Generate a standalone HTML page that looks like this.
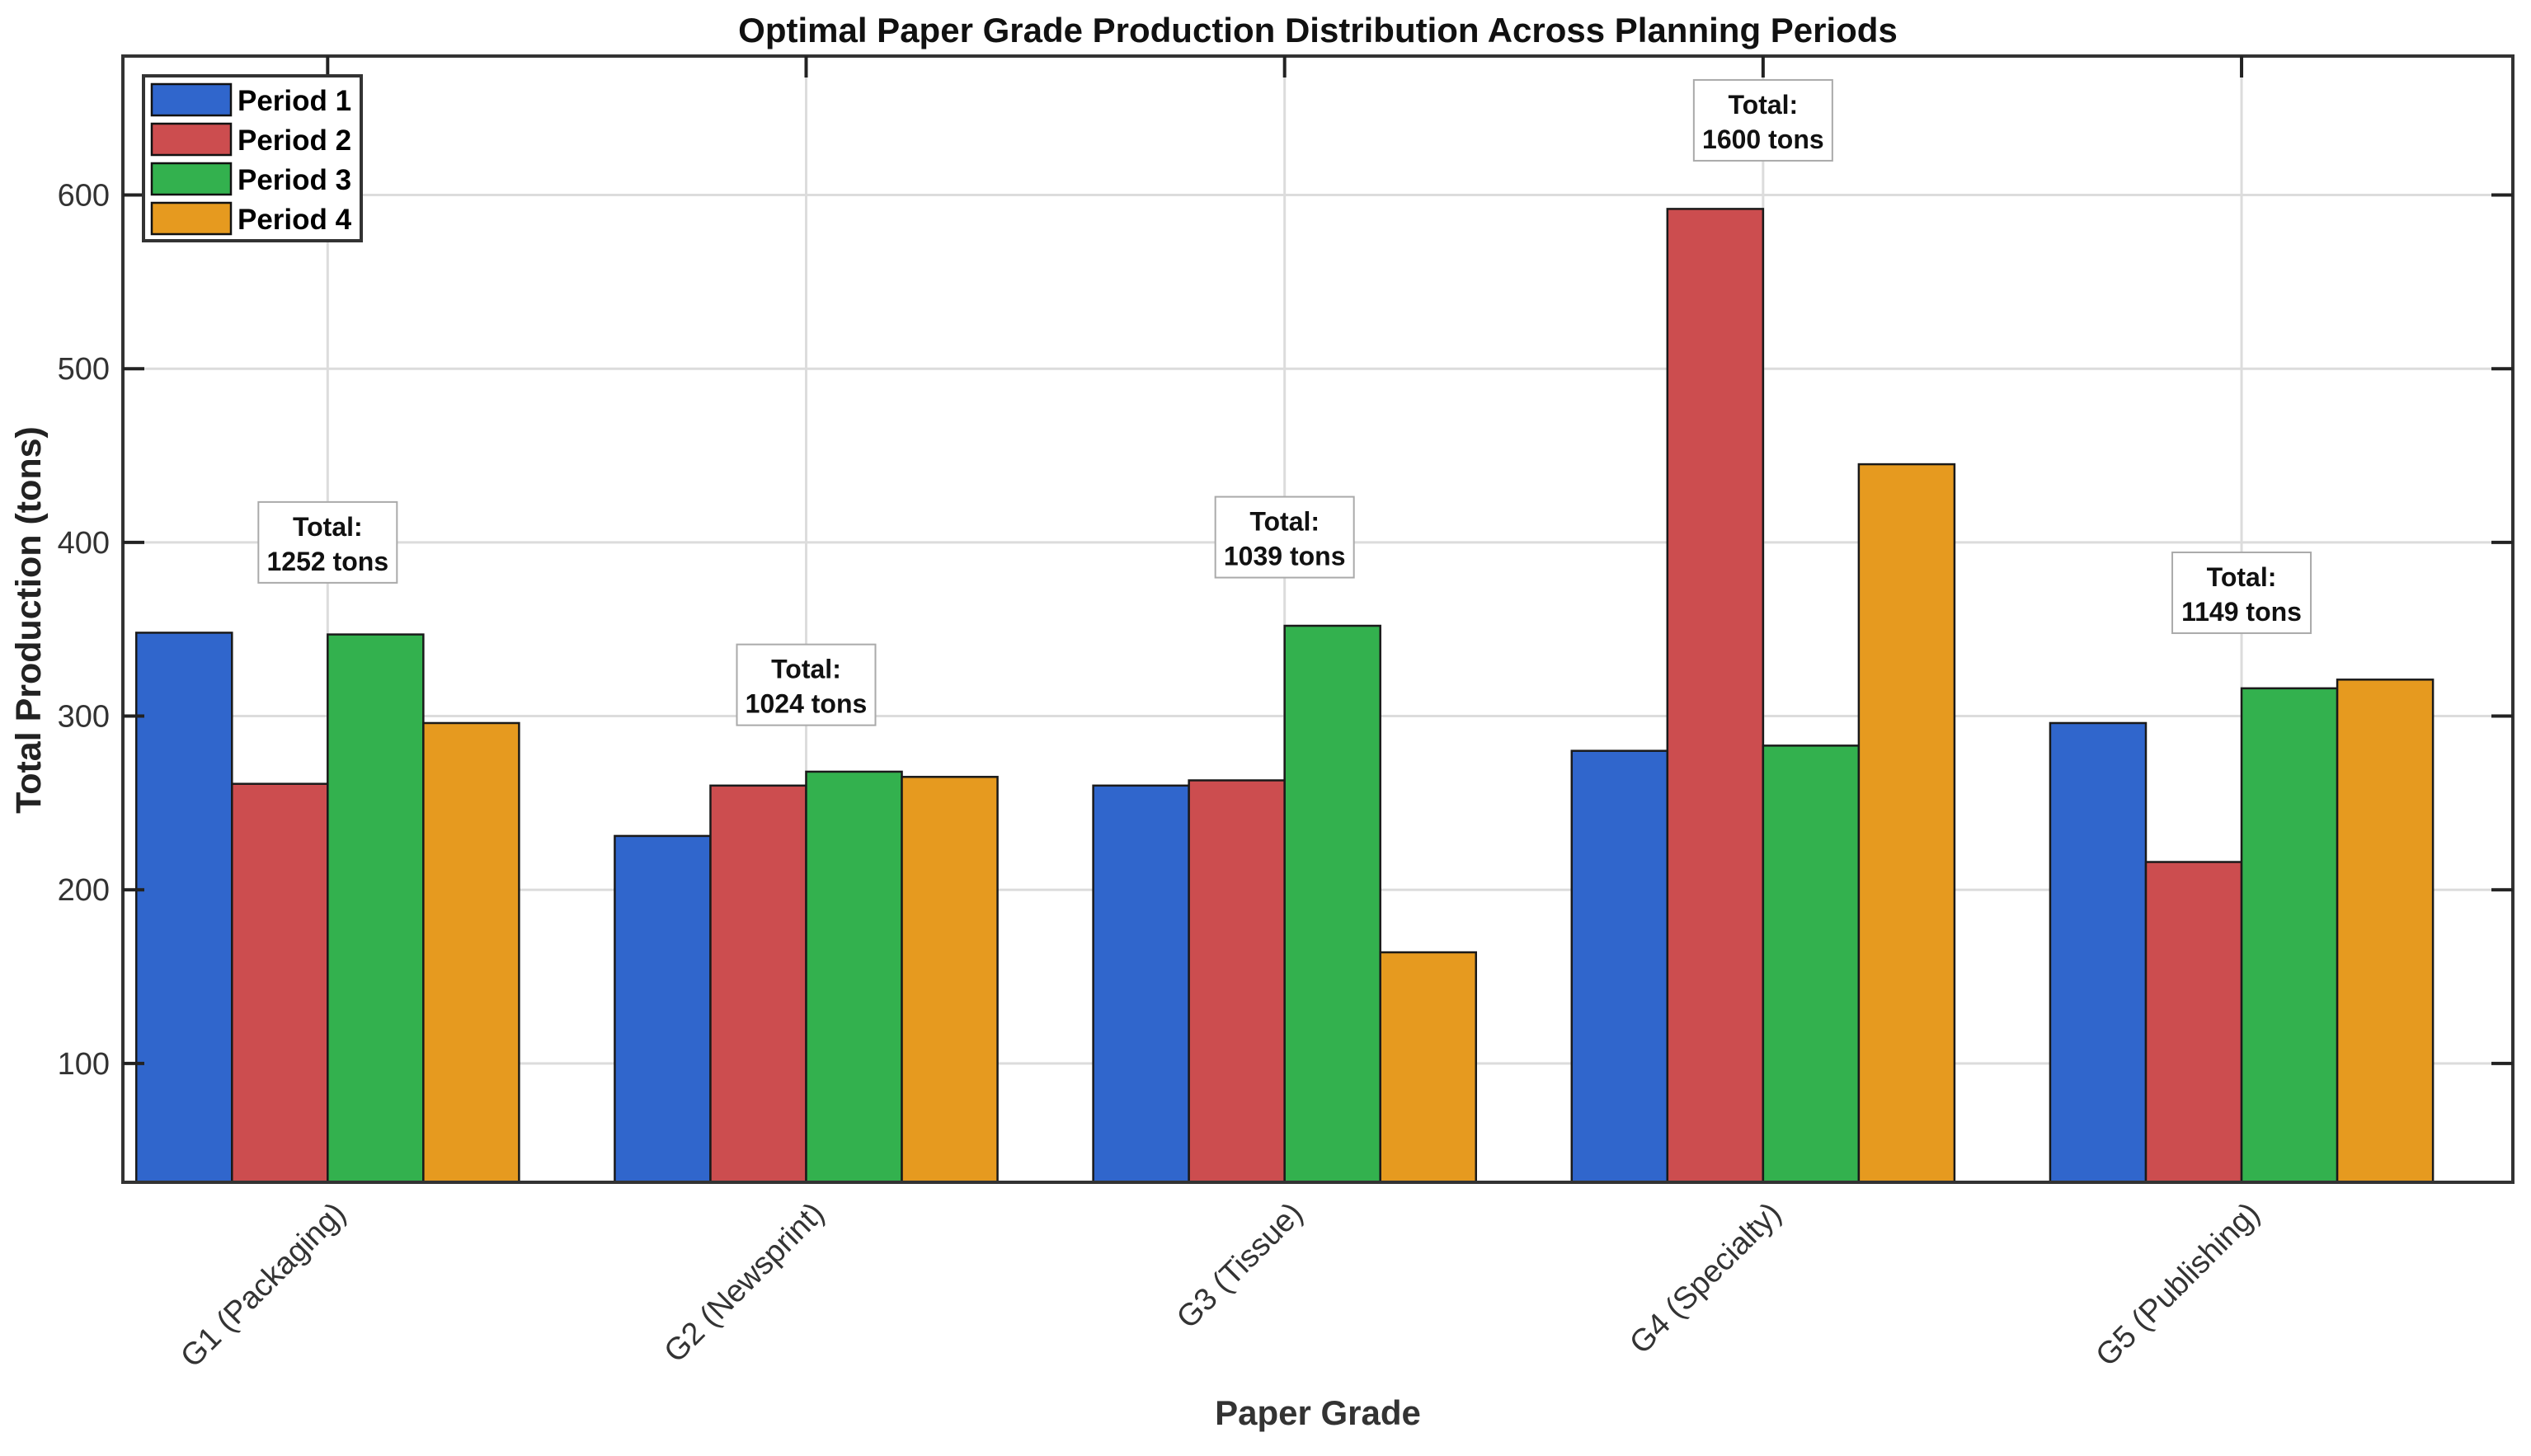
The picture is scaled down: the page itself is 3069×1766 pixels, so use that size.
<!DOCTYPE html>
<html><head><meta charset="utf-8"><style>
html,body{margin:0;padding:0;background:#fff;}
svg{display:block;font-family:"Liberation Sans",Arial,sans-serif;}
</style></head>
<body>
<svg id="chart" width="3069" height="1766" viewBox="0 0 3069 1766" xmlns="http://www.w3.org/2000/svg">
<rect x="0" y="0" width="3069" height="1766" fill="#fff"/>
<text x="1598" y="51" text-anchor="middle" font-size="42" font-weight="bold" fill="#111">Optimal Paper Grade Production Distribution Across Planning Periods</text>
<g id="grid"></g>
<g id="bars"></g>
<g id="axes"></g>
<g id="annots"></g>
<g id="legend"></g>
<text x="1598" y="1728" text-anchor="middle" font-size="42" font-weight="bold" fill="#333">Paper Grade</text>
<text transform="translate(49,752) rotate(-90)" text-anchor="middle" font-size="43" font-weight="bold" fill="#222">Total Production (tons)</text>
</svg>
<script>
const categories = ["G1 (Packaging)", "G2 (Newsprint)", "G3 (Tissue)", "G4 (Specialty)", "G5 (Publishing)"];
const seriesNames = ["Period 1", "Period 2", "Period 3", "Period 4"];
const period1 = [348, 231, 260, 280, 296];
const period2 = [261, 260, 263, 592, 216];
const period3 = [347, 268, 352, 283, 316];
const period4 = [296, 265, 164, 445, 321];
const totalLabelY = [400, 318, 403, 643, 371];
const yTicks = [100, 200, 300, 400, 500, 600];

const series = [period1, period2, period3, period4];
const colors = ["#3066cc", "#cc4d4f", "#33b14e", "#e69a1f"];
const L = 149, R = 3047, T = 68, B = 1434;
const yMin = 31.6, yMax = 680;
const xMin = 0.572, xMax = 5.567;
function xs(v){ return L + (v - xMin) / (xMax - xMin) * (R - L); }
function ys(v){ return B - (v - yMin) / (yMax - yMin) * (B - T); }
const NS = "http://www.w3.org/2000/svg";
function mk(tag, attrs, parent){
  const e = document.createElementNS(NS, tag);
  for (const k in attrs) e.setAttribute(k, attrs[k]);
  parent.appendChild(e);
  return e;
}
const grid = document.getElementById('grid');
const barsG = document.getElementById('bars');
const axes = document.getElementById('axes');
const ann = document.getElementById('annots');
const leg = document.getElementById('legend');

yTicks.forEach(t => {
  const l = mk('line', {x1:L, x2:R, y1:ys(t), y2:ys(t), stroke:'#dcdcdc', 'stroke-width':3}, grid);
  
  
});
categories.forEach((c, i) => {
  const l = mk('line', {x1:xs(i+1), x2:xs(i+1), y1:T, y2:B, stroke:'#dcdcdc', 'stroke-width':3}, grid);
  
  
});

const groupW = 0.8, barW = groupW / 4;
categories.forEach((c, i) => {
  series.forEach((s, j) => {
    const x0 = xs(i + 1 - groupW/2 + j*barW);
    const x1 = xs(i + 1 - groupW/2 + (j+1)*barW);
    const r = mk('rect', {x:x0, y:ys(s[i]), width:x1-x0, height:B-ys(s[i]), fill:colors[j], stroke:'#1a1a1a', 'stroke-width':2.5}, barsG);
    
    
  });
});

const box = mk('rect', {x:L, y:T, width:R-L, height:B-T, fill:'none', stroke:'#333', 'stroke-width':4}, axes);


yTicks.forEach(t => {
  mk('line', {x1:L, x2:L+26, y1:ys(t), y2:ys(t), stroke:'#222', 'stroke-width':4}, axes);
  mk('line', {x1:R-26, x2:R, y1:ys(t), y2:ys(t), stroke:'#222', 'stroke-width':4}, axes);
  const tx = mk('text', {x:L-16, y:ys(t)+13, 'text-anchor':'end', 'font-size':38, fill:'#333'}, axes);
  tx.textContent = t;
  
  
});
categories.forEach((c, i) => {
  const cx = xs(i+1);
  mk('line', {x1:cx, x2:cx, y1:T, y2:T+26, stroke:'#222', 'stroke-width':4}, axes);
  const tx = mk('text', {transform:'translate(' + (cx+24) + ',' + (B+40) + ') rotate(-45)', 'text-anchor':'end', 'font-size':38, fill:'#333'}, axes);
  tx.textContent = c;
  
  
});

categories.forEach((c, i) => {
  const tot = period1[i] + period2[i] + period3[i] + period4[i];
  const cx = xs(i+1), cy = ys(totalLabelY[i]);
  const g = mk('g', {}, ann);
  
  
  mk('rect', {x:cx-84, y:cy-49, width:168, height:98, fill:'#fff', stroke:'#aaa', 'stroke-width':2}, g);
  const t1 = mk('text', {x:cx, y:cy-8, 'text-anchor':'middle', 'font-size':32, 'font-weight':'bold', fill:'#111'}, g);
  t1.textContent = 'Total:';
  const t2 = mk('text', {x:cx, y:cy+34, 'text-anchor':'middle', 'font-size':32, 'font-weight':'bold', fill:'#111'}, g);
  t2.textContent = tot + ' tons';
});

const lb = mk('rect', {x:174, y:92, width:264, height:200, fill:'#fff', stroke:'#333', 'stroke-width':4}, leg);


seriesNames.forEach((n, j) => {
  const y = 121 + j*48;
  const g = mk('g', {}, leg);
  
  
  mk('rect', {x:184, y:y-19, width:96, height:38, fill:colors[j], stroke:'#111', 'stroke-width':2.5}, g);
  const t = mk('text', {x:288, y:y+13, 'font-size':35, 'font-weight':'bold', fill:'#000'}, g);
  t.textContent = n;
});
</script>
</body></html>
